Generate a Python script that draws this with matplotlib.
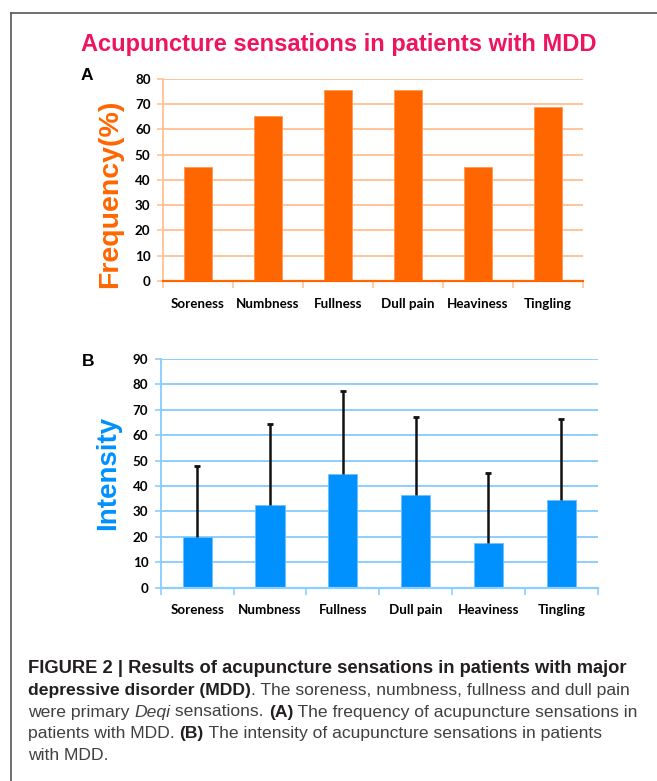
import matplotlib.pyplot as plt
import numpy as np
from matplotlib import lines

# ______________________________________________________________________________
# Data

sensations = ['Soreness', 'Numbness', 'Fullness', 'Dull pain', 'Heaviness', 'Tingling']
frequency = [45, 65.5, 75.8, 75.8, 45, 68.9]
intensity = [20.1, 32.6, 44.9, 36.4, 17.7, 34.6]
intensity_sd = [27.8, 31.8, 32.7, 30.7, 27.6, 31.9]

ORANGE = '#FF6600'
ORANGE_GRID = '#FFC49A'
BLUE = '#0091FF'
BLUE_GRID = '#8CCFFF'
TITLE_PINK = '#EE1460'
TICK_FONT = ['Lato', 'DejaVu Sans']
W, H = 657, 781


def style_panel(ax, ymax, step, main, grid):
    """Excel-like look: horizontal grid, category boundary ticks."""
    n = len(sensations)
    ax.set_xlim(-0.5, n - 0.5)
    ax.set_ylim(0, ymax)
    ax.set_yticks(np.arange(0, ymax + 1, step))
    ax.yaxis.grid(True, color=grid, lw=1.4)
    ax.set_axisbelow(True)
    for side in ['top', 'right']:
        ax.spines[side].set_visible(False)
    ax.spines['left'].set_color(grid)
    ax.spines['bottom'].set_color(main if main == ORANGE else grid)
    ax.spines['left'].set_linewidth(1.4)
    ax.spines['bottom'].set_linewidth(1.6)
    ax.set_xticks(range(n))
    ax.set_xticklabels(sensations, fontfamily=TICK_FONT, fontweight='bold', fontsize=9.6)
    ax.set_xticks(np.arange(-0.5, n), minor=True)
    ax.tick_params(axis='x', which='major', length=0, pad=12)
    ax.tick_params(axis='x', which='minor', length=5, color=grid, width=1.2)
    ax.tick_params(axis='y', length=4, color=grid, width=1.2, pad=5)
    for lab in ax.get_yticklabels():
        lab.set_fontfamily(TICK_FONT)
        lab.set_fontweight('bold')
        lab.set_fontsize(9.6)


fig = plt.figure(figsize=(W / 100, H / 100), dpi=100)

# frame lines (left + top)
fig.add_artist(lines.Line2D([11 / W, 11 / W], [0, 1 - 13 / H], transform=fig.transFigure,
                            color='#555555', lw=1.2))
fig.add_artist(lines.Line2D([11 / W, 1], [1 - 13 / H, 1 - 13 / H], transform=fig.transFigure,
                            color='#555555', lw=1.2))

fig.text(339 / W, 1 - 45 / H, 'Acupuncture sensations in patients with MDD', color=TITLE_PINK,
         fontsize=17, fontweight='bold', family='Liberation Sans', ha='center', va='center')

# Panel A
axA = fig.add_axes([163 / W, 1 - 281 / H, 420 / W, 202 / H])
axA.bar(range(len(sensations)), frequency, width=0.4, color=ORANGE, edgecolor='#FF9A55', lw=0.6)
style_panel(axA, 80, 10, ORANGE, ORANGE_GRID)
axA.set_ylabel('Frequency(%)', color=ORANGE, fontsize=20.5, fontweight='bold',
               family='Liberation Sans')
axA.yaxis.set_label_coords(-0.095, 0.43)
fig.text(87 / W, 1 - 75 / H, 'A', fontsize=12.5, fontweight='bold', family='Liberation Sans',
         ha='center', va='center')

# Panel B
axB = fig.add_axes([160.7 / W, 1 - 587.7 / H, 437 / W, 228.7 / H])
xs = np.arange(len(sensations))
tops = np.array(intensity) + np.array(intensity_sd)
axB.bar(xs, intensity, width=0.4, color=BLUE, edgecolor='#6CC0FF', lw=0.6)
axB.vlines(xs, intensity, tops, color='#111111', lw=1.8)
axB.plot(xs, tops, ls='none', marker='_', ms=5, mew=2, color='#111111')
style_panel(axB, 90, 10, BLUE, BLUE_GRID)
axB.set_ylabel('Intensity', color=BLUE, fontsize=20, fontweight='bold',
               family='Liberation Sans')
axB.yaxis.set_label_coords(-0.09, 0.5)
fig.text(88 / W, 1 - 361 / H, 'B', fontsize=12.5, fontweight='bold', family='Liberation Sans',
         ha='center', va='center')

# Caption, built from styled pieces laid out one after another
caption = [
    [('FIGURE 2 | Results of acupuncture sensations in patients with major', 'bold', 'normal')],
    [('depressive disorder (MDD)', 'bold', 'normal'),
     ('. The soreness, numbness, fullness and dull pain', 'normal', 'normal')],
    [('were primary ', 'normal', 'normal'), ('Deqi', 'normal', 'italic'),
     (' sensations. ', 'normal', 'normal'), ('(A)', 'bold', 'normal'),
     (' The frequency of acupuncture sensations in', 'normal', 'normal')],
    [('patients with MDD. ', 'normal', 'normal'), ('(B)', 'bold', 'normal'),
     (' The intensity of acupuncture sensations in patients', 'normal', 'normal')],
    [('with MDD.', 'normal', 'normal')],
]
baselines = [673, 695, 716.5, 738, 760]
pieces = []
for i, (line, yb) in enumerate(zip(caption, baselines)):
    row = []
    for text, weight, style in line:
        color = '#231f20' if weight == 'bold' else '#404040'
        if i == 0:
            size = 13.2
        elif weight == 'bold':
            size = 12.6
        else:
            size = 12.6
        t = fig.text(28 / W, 1 - yb / H, text, fontsize=size, fontweight=weight, fontstyle=style,
                     family='Liberation Sans', color=color, ha='left', va='baseline')
        row.append(t)
    pieces.append(row)

fig.canvas.draw()
renderer = fig.canvas.get_renderer()
for row in pieces:
    x = 28
    for t in row:
        t.set_x(x / W)
        x += t.get_window_extent(renderer).width

plt.savefig('out.png', dpi=100)
